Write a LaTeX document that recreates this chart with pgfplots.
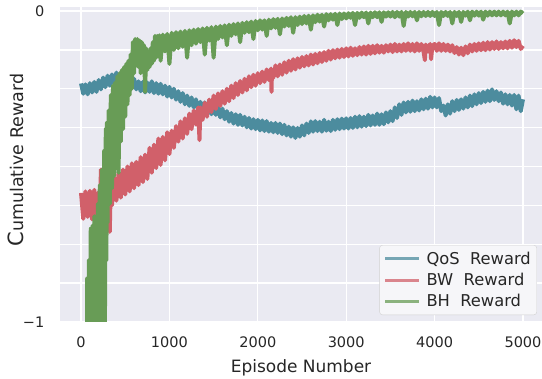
\documentclass[border=0pt]{standalone}
\usepackage{fontspec}
\setmainfont{DejaVu Sans}
\usepackage{pgfplots}
\pgfplotsset{compat=1.18}
\definecolor{bgc}{HTML}{EAEAF2}
\definecolor{qos}{HTML}{4C8C9E}
\definecolor{bw}{HTML}{D1606A}
\definecolor{bh}{HTML}{689C56}
\definecolor{txt}{HTML}{262626}
\begin{document}
\begin{tikzpicture}
\useasboundingbox (-60pt,-57pt) rectangle (482pt,322pt);
\begin{axis}[
  at={(0pt,0pt)}, anchor=south west,
  scale only axis, width=482pt, height=315pt,
  xmin=-238, xmax=5215, ymin=-1, ymax=0.0129,
  axis background/.style={fill=bgc},
  axis line style={draw=none},
  grid=major, grid style={white, line width=1.3pt},
  major tick length=0pt,
  xtick={0,1000,2000,3000,4000,5000},
  xticklabels={0,1000,2000,3000,4000,5000},
  ytick={-1,-0.875,-0.75,-0.625,-0.5,-0.375,-0.25,-0.125,0},
  yticklabels={−1,,,,,,,,0},
  tick label style={font=\fontsize{14.5}{16}\selectfont, text=txt},
  xticklabel style={inner sep=0pt, anchor=north, yshift=-15pt},
  yticklabel style={inner sep=0pt, anchor=east, xshift=-15.5pt},
  xlabel={Episode Number},
  xlabel style={at={([yshift=-37pt]axis description cs:0.5,0)}, anchor=north, inner sep=0pt, font=\fontsize{17}{18}\selectfont, text=txt},
  ylabel={{\fontsize{21}{21}\selectfont C}umulative Reward},
  ylabel style={at={([xshift=-44pt]axis description cs:0,0.514)}, anchor=center, inner sep=0pt, font=\fontsize{17.5}{18}\selectfont, text=txt},
  legend cell align=left,
  legend style={at={(0.9896,0.022)}, anchor=south east, draw=black!18, fill=white!55!bgc, rounded corners=3pt, font=\fontsize{16.3}{17}\selectfont, text=txt, inner xsep=4pt, inner ysep=4.5pt, row sep=3.5pt, /tikz/every odd column/.append style={column sep=4pt}, /tikz/every even column/.append style={column sep=4pt}},
  legend image code/.code={\draw[#1, line width=3pt, opacity=0.75] (0pt,0pt) -- (34pt,0pt);},
  every axis plot/.append style={line width=4pt, line join=round},
]
\addplot[qos] coordinates {
(0,-0.233) (25,-0.266) (50,-0.236) (75,-0.268) (100,-0.232) (125,-0.262) (150,-0.228) (175,-0.26) (200,-0.222) (225,-0.252) (250,-0.214) (275,-0.245) (300,-0.208) (325,-0.24) (350,-0.204) (375,-0.232) (400,-0.198) (425,-0.23) (450,-0.2) (475,-0.233) (500,-0.208) (525,-0.24) (550,-0.212) (575,-0.248) (600,-0.218) (625,-0.252) (650,-0.226) (675,-0.258) (700,-0.228) (725,-0.262) (750,-0.23) (775,-0.26) (800,-0.226) (825,-0.264) (850,-0.232) (875,-0.266) (900,-0.234) (925,-0.268) (950,-0.24) (975,-0.275) (1000,-0.244) (1025,-0.278) (1050,-0.25) (1075,-0.285) (1100,-0.258) (1125,-0.292) (1150,-0.264) (1175,-0.3) (1200,-0.272) (1225,-0.305) (1250,-0.278) (1275,-0.31) (1300,-0.284) (1325,-0.318) (1350,-0.292) (1375,-0.325) (1400,-0.294) (1425,-0.328) (1450,-0.3) (1475,-0.332) (1500,-0.298) (1525,-0.334) (1550,-0.306) (1575,-0.342) (1600,-0.314) (1625,-0.348) (1650,-0.322) (1675,-0.356) (1700,-0.328) (1725,-0.362) (1750,-0.332) (1775,-0.366) (1800,-0.334) (1825,-0.368) (1850,-0.34) (1875,-0.374) (1900,-0.344) (1925,-0.378) (1950,-0.348) (1975,-0.38) (2000,-0.35) (2025,-0.384) (2050,-0.352) (2075,-0.386) (2100,-0.354) (2125,-0.388) (2150,-0.36) (2175,-0.39) (2200,-0.36) (2225,-0.392) (2250,-0.362) (2275,-0.396) (2300,-0.366) (2325,-0.4) (2350,-0.372) (2375,-0.404) (2400,-0.374) (2425,-0.408) (2450,-0.376) (2475,-0.404) (2500,-0.368) (2525,-0.4) (2550,-0.362) (2575,-0.392) (2600,-0.355) (2625,-0.388) (2650,-0.354) (2675,-0.386) (2700,-0.356) (2725,-0.388) (2750,-0.35) (2775,-0.385) (2800,-0.356) (2825,-0.386) (2850,-0.35) (2875,-0.382) (2900,-0.348) (2925,-0.38) (2950,-0.346) (2975,-0.378) (3000,-0.345) (3025,-0.378) (3050,-0.344) (3075,-0.376) (3100,-0.34) (3125,-0.374) (3150,-0.338) (3175,-0.372) (3200,-0.34) (3225,-0.37) (3250,-0.334) (3275,-0.368) (3300,-0.336) (3325,-0.366) (3350,-0.33) (3375,-0.366) (3400,-0.332) (3425,-0.364) (3450,-0.326) (3475,-0.358) (3500,-0.322) (3525,-0.354) (3550,-0.31) (3575,-0.344) (3600,-0.3) (3625,-0.334) (3650,-0.294) (3675,-0.326) (3700,-0.292) (3725,-0.324) (3750,-0.288) (3775,-0.322) (3800,-0.29) (3825,-0.32) (3850,-0.284) (3875,-0.316) (3900,-0.282) (3925,-0.314) (3950,-0.276) (3975,-0.31) (4000,-0.278) (4025,-0.31) (4050,-0.28) (4075,-0.322) (4100,-0.304) (4125,-0.336) (4150,-0.3) (4175,-0.33) (4200,-0.29) (4225,-0.322) (4250,-0.286) (4275,-0.318) (4300,-0.284) (4325,-0.314) (4350,-0.278) (4375,-0.31) (4400,-0.272) (4425,-0.306) (4450,-0.268) (4475,-0.3) (4500,-0.264) (4525,-0.296) (4550,-0.26) (4575,-0.292) (4600,-0.256) (4625,-0.29) (4650,-0.252) (4675,-0.286) (4700,-0.258) (4725,-0.29) (4750,-0.262) (4775,-0.298) (4800,-0.268) (4825,-0.3) (4850,-0.27) (4875,-0.304) (4900,-0.27) (4925,-0.316) (4950,-0.272) (4975,-0.322) (5000,-0.284)
};
\addlegendentry{QoS\ \ Reward}
\addplot[bw] coordinates {
(0,-0.585) (25,-0.668) (50,-0.58) (75,-0.662) (100,-0.578) (125,-0.67) (150,-0.575) (175,-0.66) (200,-0.582) (212,-0.665) (225,-0.51) (237,-0.64) (250,-0.56) (275,-0.64) (300,-0.545) (325,-0.71) (337,-0.55) (350,-0.625) (375,-0.535) (400,-0.61) (425,-0.52) (450,-0.6) (475,-0.51) (500,-0.59) (525,-0.5) (550,-0.58) (575,-0.49) (600,-0.57) (625,-0.485) (650,-0.56) (675,-0.47) (700,-0.55) (725,-0.462) (750,-0.54) (775,-0.44) (800,-0.52) (825,-0.43) (850,-0.505) (875,-0.41) (900,-0.495) (925,-0.405) (950,-0.48) (975,-0.39) (1000,-0.46) (1025,-0.385) (1050,-0.44) (1075,-0.37) (1100,-0.42) (1125,-0.355) (1150,-0.41) (1175,-0.345) (1200,-0.395) (1225,-0.33) (1250,-0.38) (1275,-0.32) (1300,-0.365) (1325,-0.31) (1340,-0.415) (1350,-0.31) (1375,-0.35) (1400,-0.295) (1425,-0.34) (1450,-0.285) (1475,-0.325) (1500,-0.272) (1525,-0.315) (1550,-0.265) (1575,-0.305) (1600,-0.258) (1625,-0.298) (1650,-0.25) (1675,-0.29) (1700,-0.24) (1725,-0.28) (1750,-0.232) (1775,-0.27) (1800,-0.225) (1825,-0.262) (1850,-0.218) (1875,-0.255) (1900,-0.21) (1925,-0.245) (1950,-0.205) (1975,-0.24) (2000,-0.2) (2025,-0.232) (2050,-0.195) (2075,-0.228) (2100,-0.188) (2125,-0.222) (2150,-0.185) (2155,-0.26) (2160,-0.19) (2175,-0.215) (2200,-0.175) (2225,-0.21) (2250,-0.172) (2275,-0.205) (2300,-0.165) (2325,-0.198) (2350,-0.16) (2375,-0.192) (2400,-0.155) (2425,-0.188) (2450,-0.152) (2475,-0.182) (2500,-0.148) (2525,-0.178) (2550,-0.145) (2575,-0.175) (2600,-0.14) (2625,-0.172) (2650,-0.138) (2675,-0.168) (2700,-0.135) (2725,-0.164) (2750,-0.132) (2775,-0.16) (2800,-0.128) (2825,-0.156) (2850,-0.126) (2875,-0.152) (2900,-0.124) (2925,-0.15) (2950,-0.122) (2975,-0.148) (3000,-0.12) (3025,-0.146) (3050,-0.118) (3075,-0.144) (3100,-0.12) (3125,-0.142) (3150,-0.116) (3175,-0.14) (3200,-0.114) (3225,-0.14) (3250,-0.112) (3275,-0.138) (3300,-0.112) (3325,-0.136) (3350,-0.11) (3375,-0.134) (3400,-0.112) (3425,-0.134) (3450,-0.11) (3475,-0.13) (3500,-0.108) (3525,-0.132) (3550,-0.106) (3575,-0.13) (3600,-0.108) (3625,-0.13) (3650,-0.106) (3675,-0.128) (3700,-0.104) (3725,-0.128) (3750,-0.106) (3775,-0.13) (3800,-0.104) (3825,-0.128) (3850,-0.106) (3875,-0.13) (3890,-0.158) (3900,-0.108) (3925,-0.13) (3950,-0.106) (3960,-0.155) (3975,-0.112) (4000,-0.106) (4025,-0.128) (4050,-0.104) (4075,-0.128) (4100,-0.106) (4125,-0.128) (4150,-0.108) (4175,-0.13) (4200,-0.11) (4225,-0.135) (4250,-0.116) (4275,-0.14) (4300,-0.118) (4325,-0.142) (4350,-0.114) (4375,-0.136) (4400,-0.108) (4425,-0.13) (4450,-0.106) (4475,-0.128) (4500,-0.104) (4525,-0.126) (4550,-0.102) (4575,-0.126) (4600,-0.1) (4625,-0.124) (4650,-0.1) (4675,-0.122) (4700,-0.098) (4725,-0.122) (4750,-0.1) (4775,-0.12) (4800,-0.098) (4825,-0.12) (4850,-0.096) (4875,-0.118) (4900,-0.094) (4925,-0.116) (4950,-0.096) (4975,-0.122) (5000,-0.112)
};
\addlegendentry{BW\ \ Reward}
\addplot[bh] coordinates {
(0,-1.35) (12,-1.5) (25,-1.2) (37,-1.45) (50,-1.05) (62,-1.4) (70,-0.86) (80,-1.35) (90,-0.8) (100,-1.3) (110,-0.7) (120,-1.25) (130,-0.69) (140,-1.2) (150,-0.66) (160,-1.2) (170,-0.66) (180,-1.15) (190,-0.62) (200,-1.15) (212,-0.56) (225,-1.1) (237,-0.51) (250,-1.1) (262,-0.45) (270,-1.02) (280,-0.38) (287,-0.8) (293,-0.36) (300,-0.68) (312,-0.32) (325,-0.62) (337,-0.27) (350,-0.57) (362,-0.24) (375,-0.53) (387,-0.23) (400,-0.46) (412,-0.21) (425,-0.52) (437,-0.2) (450,-0.42) (462,-0.19) (475,-0.38) (487,-0.18) (500,-0.34) (512,-0.17) (525,-0.3) (537,-0.16) (550,-0.27) (562,-0.14) (575,-0.25) (587,-0.1) (600,-0.2) (612,-0.09) (625,-0.17) (637,-0.09) (650,-0.18) (662,-0.095) (675,-0.2) (687,-0.1) (700,-0.17) (712,-0.11) (725,-0.26) (737,-0.12) (750,-0.19) (762,-0.13) (775,-0.18) (787,-0.12) (800,-0.17) (812,-0.1) (825,-0.16) (837,-0.08) (850,-0.15) (862,-0.08) (875,-0.14) (887,-0.078) (900,-0.16) (925,-0.076) (950,-0.13) (975,-0.074) (1000,-0.17) (1025,-0.07) (1050,-0.125) (1075,-0.068) (1100,-0.12) (1125,-0.066) (1150,-0.115) (1175,-0.064) (1200,-0.15) (1225,-0.062) (1250,-0.11) (1275,-0.06) (1300,-0.105) (1325,-0.058) (1350,-0.1) (1375,-0.056) (1400,-0.14) (1425,-0.054) (1450,-0.095) (1475,-0.052) (1500,-0.15) (1525,-0.05) (1550,-0.09) (1575,-0.048) (1600,-0.085) (1625,-0.046) (1650,-0.11) (1675,-0.044) (1700,-0.08) (1725,-0.042) (1750,-0.075) (1775,-0.04) (1800,-0.1) (1825,-0.038) (1850,-0.07) (1875,-0.036) (1900,-0.068) (1925,-0.034) (1950,-0.09) (1975,-0.032) (2000,-0.062) (2025,-0.03) (2050,-0.06) (2075,-0.03) (2100,-0.08) (2125,-0.028) (2150,-0.056) (2175,-0.026) (2200,-0.054) (2225,-0.025) (2250,-0.075) (2275,-0.024) (2300,-0.05) (2325,-0.022) (2350,-0.048) (2375,-0.02) (2400,-0.07) (2425,-0.02) (2450,-0.045) (2475,-0.018) (2500,-0.042) (2525,-0.016) (2550,-0.04) (2575,-0.015) (2600,-0.06) (2625,-0.014) (2650,-0.036) (2675,-0.012) (2700,-0.034) (2725,-0.012) (2750,-0.05) (2775,-0.01) (2800,-0.03) (2825,-0.01) (2850,-0.028) (2875,-0.009) (2900,-0.045) (2925,-0.008) (2950,-0.026) (2975,-0.008) (3000,-0.024) (3025,-0.007) (3050,-0.022) (3075,-0.006) (3100,-0.045) (3125,-0.006) (3150,-0.022) (3175,-0.005) (3200,-0.02) (3225,-0.005) (3250,-0.04) (3275,-0.005) (3300,-0.02) (3325,-0.004) (3350,-0.02) (3375,-0.004) (3400,-0.035) (3425,-0.004) (3450,-0.018) (3475,-0.004) (3500,-0.018) (3525,-0.003) (3550,-0.02) (3575,-0.003) (3600,-0.018) (3625,-0.003) (3650,-0.048) (3675,-0.003) (3700,-0.018) (3725,-0.003) (3750,-0.017) (3775,-0.003) (3800,-0.03) (3825,-0.003) (3850,-0.017) (3875,-0.003) (3900,-0.016) (3925,-0.003) (3950,-0.016) (3975,-0.003) (4000,-0.016) (4025,-0.003) (4050,-0.045) (4075,-0.003) (4100,-0.016) (4125,-0.003) (4150,-0.016) (4175,-0.003) (4200,-0.04) (4225,-0.003) (4250,-0.016) (4275,-0.003) (4300,-0.035) (4325,-0.003) (4350,-0.015) (4375,-0.002) (4400,-0.03) (4425,-0.002) (4450,-0.015) (4475,-0.002) (4500,-0.015) (4525,-0.002) (4550,-0.028) (4575,-0.002) (4600,-0.015) (4625,-0.002) (4650,-0.014) (4675,-0.002) (4700,-0.014) (4725,-0.002) (4750,-0.014) (4775,-0.002) (4800,-0.014) (4825,-0.002) (4850,-0.04) (4875,-0.002) (4900,-0.014) (4925,-0.002) (4950,-0.014) (4975,-0.002) (5000,-0.008)
};
\addlegendentry{BH\ \ Reward}
\end{axis}
\end{tikzpicture}
\end{document}
